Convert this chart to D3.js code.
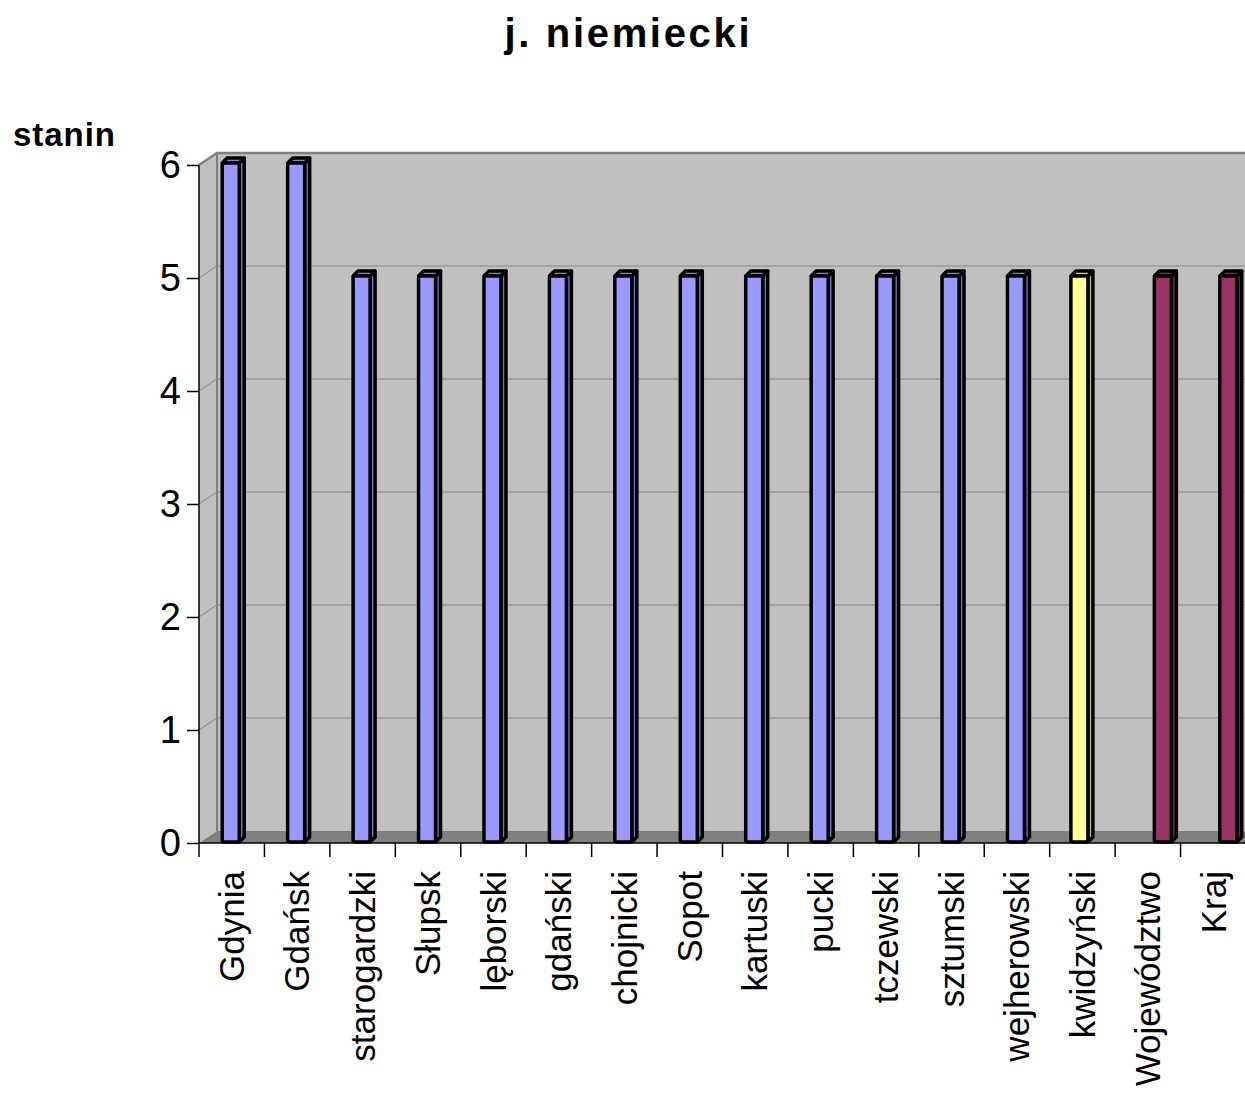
<!DOCTYPE html>
<html>
<head>
<meta charset="utf-8">
<script src="https://cdn.jsdelivr.net/npm/d3@7"></script>
<style>
  body { margin: 0; background: #fff; }
  text { font-family: "Liberation Sans", Arial, sans-serif; fill: #000; }
</style>
</head>
<body>
<div id="chart"></div>
<script>
// data
var categories = ["Gdynia", "Gdańsk", "starogardzki", "Słupsk", "lęborski", "gdański",
  "chojnicki", "Sopot", "kartuski", "pucki", "tczewski", "sztumski", "wejherowski",
  "kwidzyński", "Województwo", "Kraj"];
var values = [6, 6, 5, 5, 5, 5, 5, 5, 5, 5, 5, 5, 5, 5, 5, 5];
var groups = ["powiat", "powiat", "powiat", "powiat", "powiat", "powiat", "powiat",
  "powiat", "powiat", "powiat", "powiat", "powiat", "powiat",
  "wybrany", "zbiorczy", "zbiorczy"];
var yTicks = [0, 1, 2, 3, 4, 5, 6];

var width = 1245,
    height = 1099;

// 3D wall offset
var dx = 18, dy = -12;

var svg = d3.select('#chart')
  .append('svg')
  .attr('width', width)
  .attr('height', height);

var x = d3.scaleBand().domain(categories).range([199, 1246]).padding(0);
var y = d3.scaleLinear().domain([0, 6]).range([843, 165]);

var fill = d3.scaleOrdinal()
  .domain(["powiat", "wybrany", "zbiorczy"])
  .range(["#9999ff", "#ffff99", "#993366"]);
var shift = d3.scaleOrdinal()
  .domain(["powiat", "wybrany", "zbiorczy"])
  .range([0, -2, 16]);

var x0 = x.range()[0], x1 = x.range()[1];

// walls
svg.append('polygon')
  .attr('points', [[x0 + dx, y(6) + dy], [x1 + dx, y(6) + dy], [x1 + dx, y(0) + dy], [x0 + dx, y(0) + dy]].join(' '))
  .attr('fill', '#c0c0c0');
svg.append('polygon')
  .attr('points', [[x0, y(6)], [x0 + dx, y(6) + dy], [x0 + dx, y(0) + dy], [x0, y(0)]].join(' '))
  .attr('fill', '#c0c0c0');
svg.append('polygon')
  .attr('points', [[x0, y(0)], [x0 + dx, y(0) + dy], [x1 + dx, y(0) + dy], [x1, y(0)]].join(' '))
  .attr('fill', '#808080');

// gridlines
var grid = svg.append('g').attr('stroke', '#999').attr('stroke-width', 1.3).attr('fill', 'none');
yTicks.filter(function(d) { return d > 0; }).forEach(function(t) {
  grid.append('polyline')
    .attr('points', [[x0, y(t)], [x0 + dx, y(t) + dy], [x1 + dx, y(t) + dy]].join(' '));
});
// wall edges
svg.append('line')
  .attr('x1', x0 + dx).attr('x2', x0 + dx)
  .attr('y1', y(6) + dy).attr('y2', y(0) + dy)
  .attr('stroke', '#808080').attr('stroke-width', 2);
svg.append('polyline')
  .attr('points', [[x0, y(6)], [x0 + dx, y(6) + dy], [x1 + dx, y(6) + dy]].join(' '))
  .attr('fill', 'none')
  .attr('stroke', '#808080').attr('stroke-width', 2.5);

// bars
var bw = 17, bdx = 5, bdy = -5;
var bars = svg.append('g').selectAll('g.bar')
  .data(categories.map(function(c, i) { return { name: c, value: values[i], group: groups[i] }; }))
  .enter()
  .append('g')
  .attr('class', 'bar')
  .attr('stroke', '#000')
  .attr('stroke-width', 3.5)
  .attr('stroke-linejoin', 'round');

bars.each(function(d) {
  var g = d3.select(this);
  var c = d3.color(fill(d.group));
  var left = x(d.name) + x.bandwidth() / 2 + shift(d.group) - bw / 2 - 1;
  var top = y(d.value) - 2, bottom = y(0) - 1;
  g.append('polygon')
    .attr('points', [[left + bw, top], [left + bw + bdx, top + bdy], [left + bw + bdx, bottom + bdy], [left + bw, bottom]].join(' '))
    .attr('fill', c.darker(0.8));
  g.append('polygon')
    .attr('points', [[left, top], [left + bw, top], [left + bw + bdx, top + bdy], [left + bdx, top + bdy]].join(' '))
    .attr('fill', c.darker(0.5));
  g.append('rect')
    .attr('x', left).attr('y', top)
    .attr('width', bw).attr('height', bottom - top)
    .attr('rx', 2)
    .attr('fill', c);
});

// y axis
svg.append('line')
  .attr('x1', x0).attr('x2', x0)
  .attr('y1', y(6)).attr('y2', y(0))
  .attr('stroke', '#000').attr('stroke-width', 1.5);
var yAxis = svg.append('g').attr('transform', 'translate(' + x0 + ',0)')
  .call(d3.axisLeft(y).tickValues(yTicks).tickFormat(d3.format('d')).tickSize(12).tickPadding(6));
yAxis.select('.domain').remove();
yAxis.selectAll('.tick line').attr('stroke', '#000').attr('stroke-width', 1.5);
yAxis.selectAll('.tick text')
  .style('font-family', '"Liberation Sans", Arial, sans-serif')
  .style('font-size', '38px')
  .attr('dy', '0.33em');

// x axis
svg.append('line')
  .attr('x1', x0).attr('x2', width)
  .attr('y1', y(0)).attr('y2', y(0))
  .attr('stroke', '#000').attr('stroke-width', 1.5);
svg.append('g').selectAll('line')
  .data(categories)
  .enter()
  .append('line')
  .attr('x1', function(d) { return x(d); })
  .attr('x2', function(d) { return x(d); })
  .attr('y1', y(0)).attr('y2', y(0) + 14)
  .attr('stroke', '#000').attr('stroke-width', 1.5);

svg.append('g').selectAll('text')
  .data(categories)
  .enter()
  .append('text')
  .attr('transform', function(d) { return 'translate(' + (x(d) + x.bandwidth() / 2) + ',871) rotate(-90)'; })
  .attr('text-anchor', 'end')
  .attr('dy', '0.35em')
  .style('font-size', '35px')
  .text(function(d) { return d; });

// title and axis title
svg.append('text')
  .attr('x', 627).attr('y', 47)
  .attr('text-anchor', 'middle')
  .attr('textLength', 245)
  .attr('lengthAdjust', 'spacing')
  .style('font-size', '40px')
  .style('font-weight', 'bold')
  .text('j. niemiecki');

svg.append('text')
  .attr('x', 13).attr('y', 146)
  .attr('textLength', 102)
  .attr('lengthAdjust', 'spacing')
  .style('font-size', '33px')
  .style('font-weight', 'bold')
  .text('stanin');
</script>
</body>
</html>
